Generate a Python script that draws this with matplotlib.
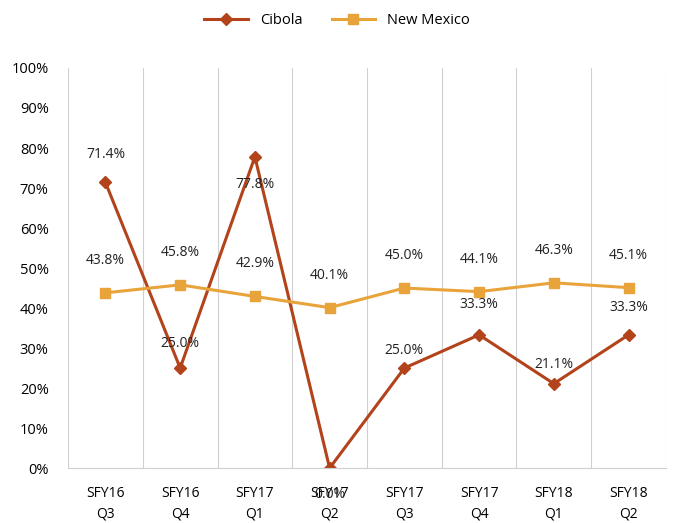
import matplotlib.pyplot as plt
from matplotlib.ticker import PercentFormatter

quarters = ["SFY16\nQ3", "SFY16\nQ4", "SFY17\nQ1", "SFY17\nQ2",
            "SFY17\nQ3", "SFY17\nQ4", "SFY18\nQ1", "SFY18\nQ2"]
cibola = [71.4, 25.0, 77.8, 0.0, 25.0, 33.3, 21.1, 33.3]
new_mexico = [43.8, 45.8, 42.9, 40.1, 45.0, 44.1, 46.3, 45.1]

# label offsets in points (x, y) for Cibola, mimicking the original placement
cib_offsets = [(0, 20), (0, 18), (0, -20), (0, -19), (0, 13), (0, 22), (0, 14), (0, 20)]

c_cib = "#B2431A"
c_nm = "#E9A33B"

plt.rcParams['font.family'] = ['Open Sans', 'DejaVu Sans']

fig = plt.figure(figsize=(6.74, 5.23), dpi=100)
ax = fig.add_axes([0.101, 0.105, 0.887, 0.765])

x = list(range(len(quarters)))
ax.plot(x, cibola, color=c_cib, lw=2.2, marker="D", ms=6, label="Cibola")
ax.plot(x, new_mexico, color=c_nm, lw=2.2, marker="s", ms=7, label="New Mexico")

for i, v in enumerate(new_mexico):
    ax.annotate(f"{v:.1f}%", (i, v), xytext=(0, 18), textcoords="offset points",
                ha="center", va="bottom", fontsize=10, color="#222222")
for i, v in enumerate(cibola):
    dx, dy = cib_offsets[i]
    ax.annotate(f"{v:.1f}%", (i, v), xytext=(dx, dy), textcoords="offset points",
                ha="center", va="center", fontsize=10, color="#222222")

ax.set_xlim(-0.5, len(quarters) - 0.5)
ax.set_ylim(0, 100)
ax.set_yticks(range(0, 101, 10))
ax.yaxis.set_major_formatter(PercentFormatter(decimals=0))
ax.set_xticks(x)
ax.set_xticklabels(quarters, fontsize=10, linespacing=1.5)
ax.tick_params(axis="y", labelsize=10.5, length=0, pad=14)
ax.tick_params(axis="x", length=0, pad=13)

# vertical separators between categories
for b in [i - 0.5 for i in range(len(quarters) + 1)]:
    ax.axvline(b, color="#d0d0d0", lw=0.8, zorder=0)

for s in ["top", "right", "left"]:
    ax.spines[s].set_visible(False)
ax.spines["bottom"].set_color("#d0d0d0")

fig.legend(loc="upper center", bbox_to_anchor=(0.5, 1.0), ncol=2, frameon=False,
           fontsize=10.5, handlelength=3, columnspacing=2)

fig.savefig("out.png", dpi=100)
